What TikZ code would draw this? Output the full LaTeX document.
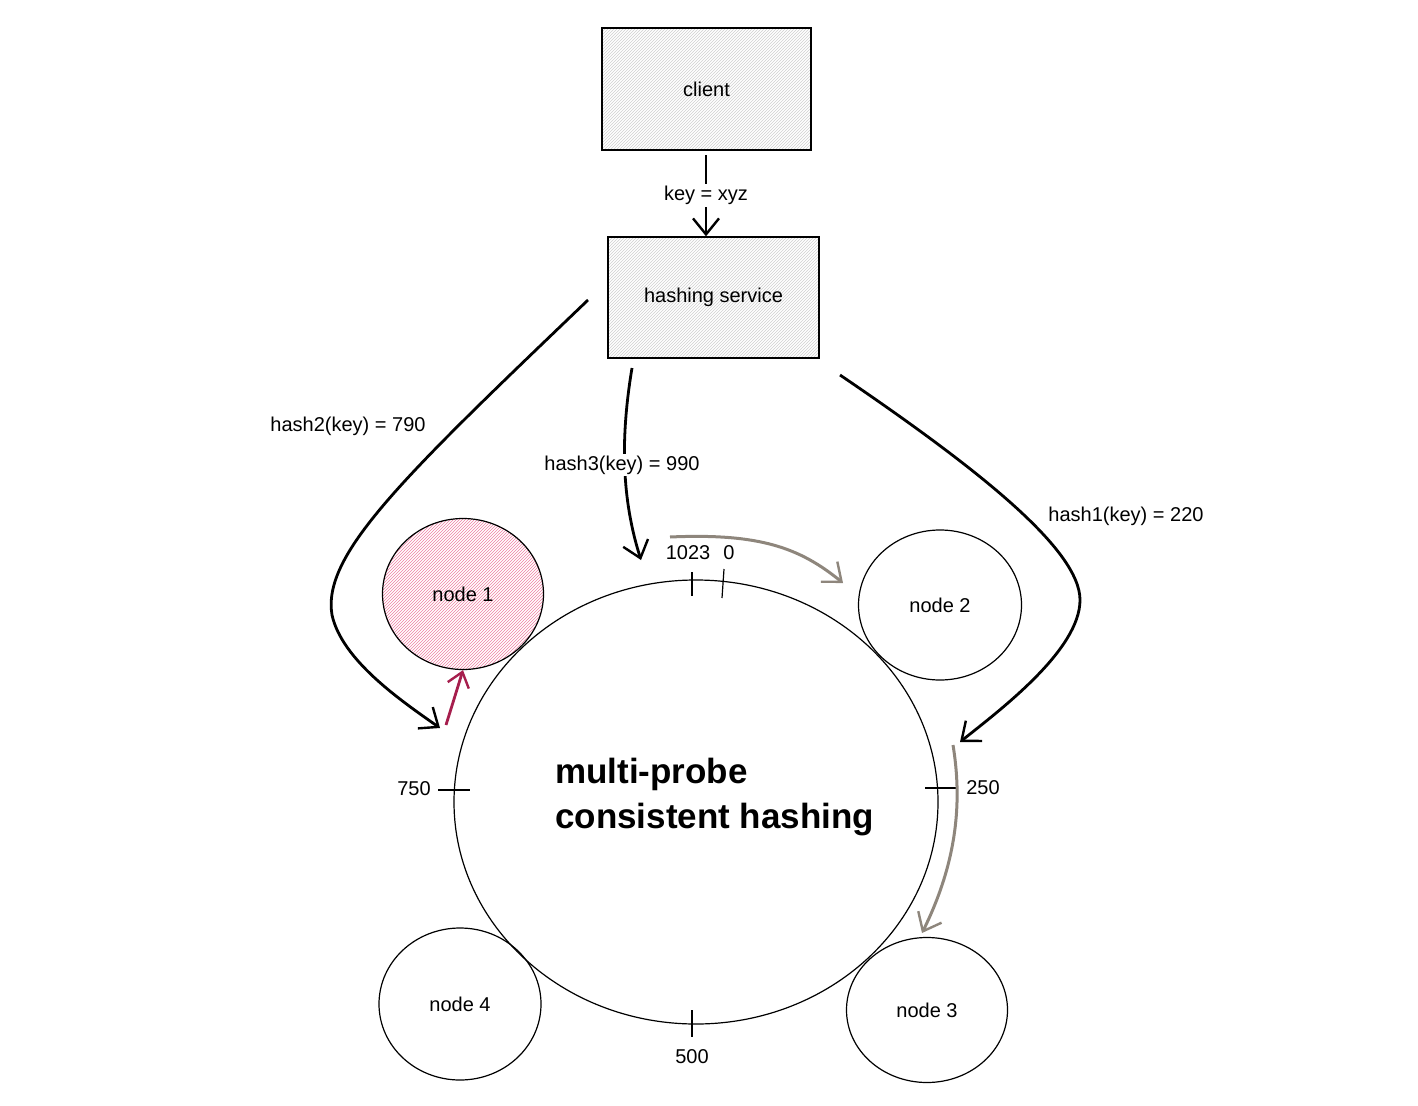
\documentclass[tikz,border=0pt]{standalone}
\usepackage{fontspec}
\setmainfont{Liberation Sans}
\usetikzlibrary{shapes.geometric,arrows.meta,patterns}
\definecolor{hatchgray}{HTML}{CFCFCF}
\definecolor{pinkhatch}{HTML}{EE7FA3}
\definecolor{crimson}{HTML}{A61E4D}
\definecolor{taupe}{HTML}{8E867C}
\tikzset{
  lbl/.style={font=\fontsize{20}{24}\selectfont, inner sep=2pt},
  boxnode/.style={draw, line width=1.4pt, pattern=north east lines, pattern color=hatchgray, font=\fontsize{20}{24}\selectfont},
  ringnode/.style={draw, ellipse, line width=1.2pt},
  srvnode/.style={draw, ellipse, line width=1.2pt, font=\fontsize{20}{24}\selectfont},
  flow/.style={line width=2.8pt, -{Straight Barb[length=16pt,width=26pt,line width=2.4pt]}},
  gflow/.style={line width=3pt, draw=taupe, -{Straight Barb[length=16pt,width=26pt,line width=2.4pt]}},
  tick/.style={line width=1.2pt},
}
\begin{document}
\begin{tikzpicture}[x=1pt,y=-1pt]
\useasboundingbox (0,0) rectangle (1418,1105);
% boxes
\node[boxnode, minimum width=209, minimum height=122] (client) at (706.5,89) {client};
\node[boxnode, minimum width=211, minimum height=121] (hash) at (713.5,297.5) {hashing service};
% ring and servers
\node[ringnode, minimum width=484, minimum height=444] (ring) at (696,802) {};
\node[srvnode, minimum width=161, minimum height=151, pattern=north east lines, pattern color=pinkhatch] (n1) at (463,594) {node 1};
\node[srvnode, minimum width=163, minimum height=150] (n2) at (940,605) {node 2};
\node[srvnode, minimum width=161, minimum height=145] (n3) at (927,1010) {node 3};
\node[srvnode, minimum width=162, minimum height=152] (n4) at (460,1004) {node 4};
% title
\node[anchor=west, align=left, font=\fontsize{35}{45}\selectfont\bfseries, inner sep=0pt] (title) at (555,797) {multi-probe\\consistent hashing};
% ticks
\coordinate (t1a) at (692,572); \coordinate (t1b) at (692,596);
\coordinate (t0a) at (724,569); \coordinate (t0b) at (722,598);
\coordinate (t7a) at (438,790); \coordinate (t7b) at (470,790);
\coordinate (t2a) at (925,788); \coordinate (t2b) at (957,788);
\coordinate (t5a) at (692,1010); \coordinate (t5b) at (692,1037);
\draw[tick] (t1a) -- (t1b);
\draw[tick] (t0a) -- (t0b);
\draw[tick] (t7a) -- (t7b);
\draw[tick] (t2a) -- (t2b);
\draw[tick] (t5a) -- (t5b);
\node[lbl] (l1023) at (688,553) {1023};
\node[lbl] (l0) at (729,553) {0};
\node[lbl] (l750) at (414,789) {750};
\node[lbl] (l250) at (983,788) {250};
\node[lbl] (l500) at (692,1057) {500};
% client -> hashing service
\coordinate (c1) at (706,155);
\draw[flow] (c1) -- (hash.north -| c1) node[midway, lbl, fill=white] (kl) {key = xyz};
% hash2
\coordinate (h2s) at (588,300);
\coordinate (h2e) at (440,728);
\draw[flow] (h2s) .. controls (400,480) and (322,555) .. (332,615) .. controls (342,660) and (400,700) .. (h2e);
\node[lbl] (h2l) at (348,426) {hash2(key) = 790};
% hash3
\coordinate (h3s) at (632,368);
\coordinate (h3e) at (641,560);
\draw[flow] (h3s) .. controls (620,440) and (622,500) .. (h3e);
\node[lbl, fill=white] (h3l) at (622,465) {hash3(key) = 990};
% hash1
\coordinate (h1s) at (840,375);
\coordinate (h1e) at (960,742);
\draw[flow] (h1s) .. controls (980,470) and (1080,550) .. (1080,600) .. controls (1080,650) and (1000,710) .. (h1e);
\node[lbl] (h1l) at (1126,516) {hash1(key) = 220};
% gray arrows
\coordinate (g1s) at (670,537);
\coordinate (g1e) at (843,583);
\draw[gflow] (g1s) .. controls (760,533) and (800,548) .. (g1e);
\coordinate (g2s) at (953,745);
\coordinate (g2e) at (922,933);
\draw[gflow] (g2s) .. controls (962,800) and (958,860) .. (g2e);
% red arrow
\coordinate (r1s) at (446,725);
\draw[line width=2.8pt, draw=crimson, -{Straight Barb[length=14pt,width=22pt,line width=2.4pt]}] (r1s) -- (n1.south);
\end{tikzpicture}
\end{document}
